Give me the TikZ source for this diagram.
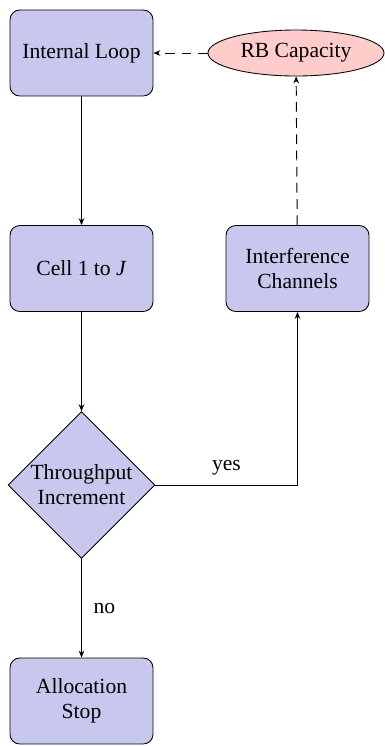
\documentclass[tikz,border=0pt]{standalone}
\usepackage{fontspec}
\setmainfont{Liberation Serif}
\usetikzlibrary{shapes.geometric,arrows.meta}
\definecolor{boxfill}{RGB}{200,200,238}
\definecolor{ellfill}{RGB}{255,204,204}
\begin{document}
\begin{tikzpicture}[x=0.463pt,y=-0.463pt,
  font=\fontsize{10}{11.5}\selectfont,
  stepbox/.style={rectangle,rounded corners=4.5pt,draw,fill=boxfill,
    minimum width=66.2pt,minimum height=39.8pt,align=center},
  decision/.style={diamond,draw,fill=boxfill,aspect=1,inner sep=-1pt,
    minimum width=68pt,minimum height=68pt,align=center},
  source/.style={ellipse,draw,fill=ellfill,minimum width=81.5pt,
    minimum height=21.3pt,inner sep=0pt},
  arr/.style={-{Stealth[length=3.2pt,width=2.6pt]},line width=0.45pt},
  dsh/.style={dash pattern=on 4.5pt off 3pt}]
\useasboundingbox (0,0) rectangle (385,746);

\node[stepbox] (il) at (81.5,53) {Internal Loop};
\node[source] (rb) at (296,53) {RB Capacity};
\node[stepbox] (cell) at (81.5,268.5) {Cell 1 to \textit{J}};
\node[stepbox] (ic) at (297.5,268.5) {Interference\\Channels};
\node[decision] (dec) at (81.5,485) {Throughput\\Increment};
\node[stepbox] (stop) at (81.5,701) {Allocation\\Stop};

\draw[arr] (il) -- (cell);
\draw[arr] (cell) -- (dec);
\draw[arr] (dec) -- node[right,xshift=2pt] {no} (stop);
\draw[arr] (dec.east) -| node[pos=0.25,above,yshift=1pt] {yes} (ic.south);
\draw[arr,dsh] (ic) -- (rb);
\draw[arr,dsh] (rb) -- (il);
\end{tikzpicture}
\end{document}
